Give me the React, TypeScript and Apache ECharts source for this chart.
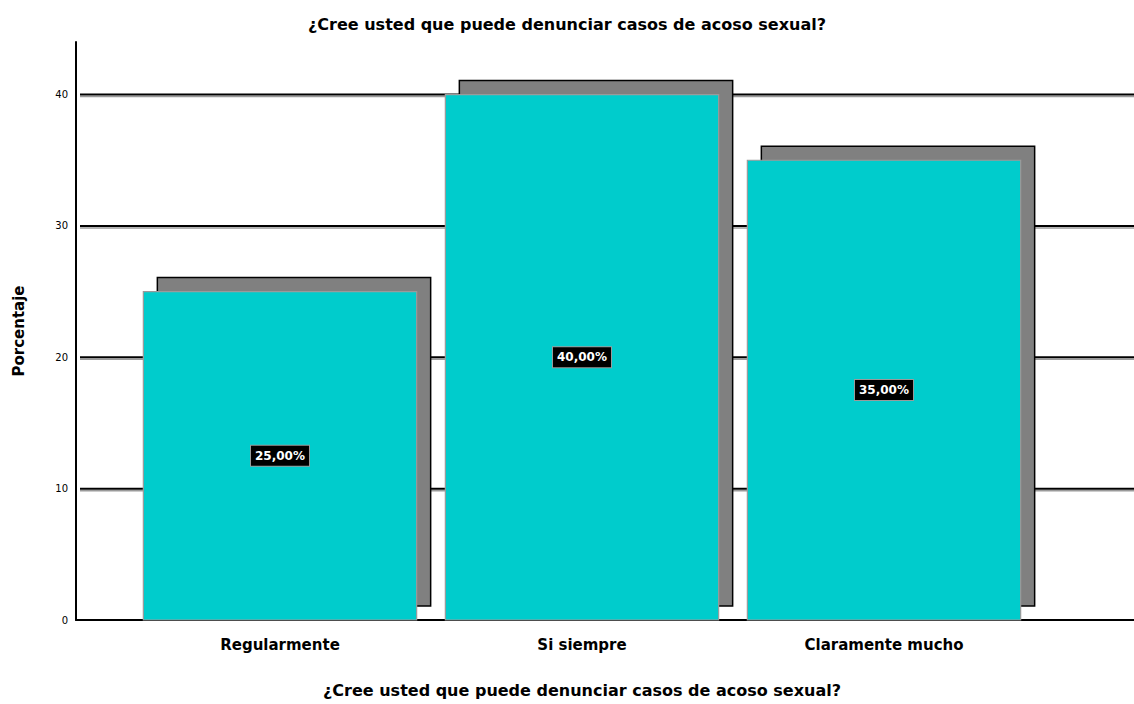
import React, { useEffect, useRef } from "react";
import * as echarts from "echarts";

const chartTitle = "¿Cree usted que puede denunciar casos de acoso sexual?";
const categories = ["Regularmente", "Si siempre", "Claramente mucho"];
const percentValues = [25.0, 40.0, 35.0];
const barLabels = ["25,00%", "40,00%", "35,00%"];
const gridTicks = [10, 20, 30, 40];
const yAxisName = "Porcentaje";

const FONT = "'DejaVu Sans', 'Liberation Sans', Arial, sans-serif";

export default function App() {
  const ref = useRef<HTMLDivElement>(null);
  useEffect(() => {
    if (!ref.current) return;
    const chart = echarts.init(ref.current, null, { renderer: "svg" });
    const option: any = {
      animation: false,
      backgroundColor: "#ffffff",
      title: {
        text: chartTitle,
        left: "center",
        top: 11,
        textStyle: { fontFamily: FONT, fontSize: 16, fontWeight: "bold", color: "#000" },
      },
      grid: [
        { left: 76, right: 0, top: 42, bottom: 84 },
        { left: 129, width: 906, top: 42, bottom: 84 },
      ],
      xAxis: [
        {
          type: "value",
          gridIndex: 0,
          min: 0,
          max: 1,
          axisLine: { show: true, lineStyle: { color: "#000", width: 2 } },
          axisTick: { show: false },
          axisLabel: { show: false },
          splitLine: { show: false },
        },
        {
          type: "category",
          gridIndex: 1,
          data: categories,
          axisLine: { show: false },
          axisTick: { show: false },
          axisLabel: { fontFamily: FONT, fontSize: 15, fontWeight: "bold", color: "#000", margin: 17 },
          name: chartTitle,
          nameLocation: "middle",
          nameGap: 62,
          nameTextStyle: { fontFamily: FONT, fontSize: 16, fontWeight: "bold", color: "#000" },
        },
      ],
      yAxis: [
        {
          type: "value",
          gridIndex: 0,
          min: 0,
          max: 44,
          interval: 10,
          axisLine: { show: true, lineStyle: { color: "#000", width: 2 } },
          axisTick: { show: false },
          splitLine: { show: false },
          axisLabel: {
            fontFamily: FONT,
            fontSize: 10,
            color: "#000",
            margin: 8,
            formatter: (v: number) => (v % 10 === 0 ? String(v) : ""),
          },
          name: yAxisName,
          nameLocation: "middle",
          nameGap: 50,
          nameTextStyle: { fontFamily: FONT, fontSize: 15, fontWeight: "bold", color: "#000" },
        },
        {
          type: "value",
          gridIndex: 1,
          min: 0,
          max: 44,
          show: false,
        },
      ],
      series: [
        {
          type: "custom",
          xAxisIndex: 0,
          yAxisIndex: 0,
          z: 1,
          silent: true,
          encode: { y: 0 },
          data: gridTicks.map((t) => [t]),
          renderItem: (params: any, api: any) => {
            const cs = params.coordSys;
            const y = api.coord([0, api.value(0)])[1];
            return {
              type: "group",
              children: [
                {
                  type: "line",
                  shape: { x1: cs.x + 4, y1: y + 2, x2: cs.x + cs.width, y2: y + 2 },
                  style: { stroke: "#9a9a9a", lineWidth: 1.5 },
                },
                {
                  type: "line",
                  shape: { x1: cs.x + 4, y1: y, x2: cs.x + cs.width, y2: y },
                  style: { stroke: "#000", lineWidth: 2 },
                },
              ],
            };
          },
        },
        {
          type: "custom",
          xAxisIndex: 1,
          yAxisIndex: 1,
          z: 5,
          encode: { x: 0, y: 1 },
          data: percentValues.map((v, i) => [i, v]),
          renderItem: (params: any, api: any) => {
            const idx = api.value(0);
            const v = api.value(1);
            const top = api.coord([idx, v]);
            const base = api.coord([idx, 0]);
            const band = api.size([1, 0])[0];
            const w = band * 0.905;
            const x0 = top[0] - w / 2;
            const h = base[1] - top[1];
            const d = 14;
            return {
              type: "group",
              children: [
                {
                  type: "rect",
                  shape: { x: x0 + d, y: top[1] - d, width: w, height: h },
                  style: { fill: "#808080", stroke: "#000", lineWidth: 1.5 },
                },
                {
                  type: "rect",
                  shape: { x: x0, y: top[1], width: w, height: h },
                  style: { fill: "#00CCCC", stroke: "#9a9a9a", lineWidth: 1.2 },
                },
                {
                  type: "text",
                  x: top[0],
                  y: (top[1] + base[1]) / 2,
                  style: {
                    text: barLabels[params.dataIndex],
                    fill: "#fff",
                    font: `bold 12px ${FONT}`,
                    align: "center",
                    verticalAlign: "middle",
                    backgroundColor: "#000",
                    borderColor: "#9a9a9a",
                    borderWidth: 1,
                    padding: [4, 4],
                  },
                },
              ],
            };
          },
        },
      ],
    };
    chart.setOption(option);
    return () => chart.dispose();
  }, []);
  return (
    <div
      ref={ref}
      style={{ position: "fixed", left: 0, top: 0, width: 1134, height: 704, background: "#fff" }}
    />
  );
}
